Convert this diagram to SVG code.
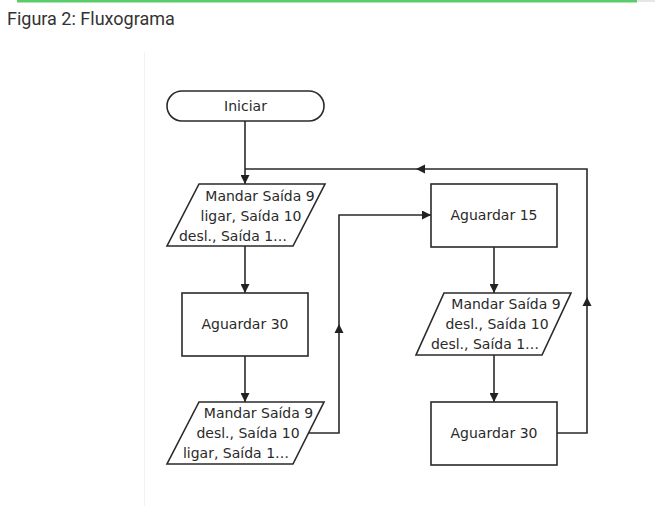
<svg xmlns="http://www.w3.org/2000/svg" width="655" height="506" viewBox="0 0 655 506">
<defs>
<marker id="ah" viewBox="0 0 10 10" refX="10" refY="5" markerWidth="9" markerHeight="9" markerUnits="userSpaceOnUse" orient="auto">
<path d="M0,0 L10,5 L0,10 Z" fill="#222"/>
</marker>
</defs>
<style>
.shape{fill:#fff;stroke:#2a2a2a;stroke-width:1.6}
.lbl{font-family:"DejaVu Sans",Verdana,sans-serif;font-size:14px;fill:#2a2a2a;text-anchor:middle;dominant-baseline:central}
.conn{fill:none;stroke:#2a2a2a;stroke-width:1.6}
.title{font-family:Roboto,"Liberation Sans",sans-serif;font-size:18px;fill:#333}
.tri{fill:#222}
</style>
<rect x="0" y="0" width="655" height="506" fill="#fff"/>
<rect x="637" y="0" width="18" height="2" fill="#e6e6e6"/>
<rect x="17" y="0" width="620" height="2.5" fill="#5ccb6b"/>
<text class="title" x="7" y="25">Figura 2: Fluxograma</text>
<line x1="144.5" y1="52" x2="144.5" y2="506" stroke="#f2f2f2" stroke-width="1"/>

<g id="connectors">
<path class="conn" d="M245,121 V184" marker-end="url(#ah)"/>
<path class="conn" d="M245,246 V293" marker-end="url(#ah)"/>
<path class="conn" d="M245,356 V402" marker-end="url(#ah)"/>
<path class="conn" d="M306,433 H339 V215 H431" marker-end="url(#ah)"/>
<path class="conn" d="M494,247 V293" marker-end="url(#ah)"/>
<path class="conn" d="M494,355 V402" marker-end="url(#ah)"/>
<path class="conn" d="M557,433 H587 V169 H245"/>
<path class="tri" d="M587,297 L591.5,306 L582.5,306 Z"/>
<path class="tri" d="M339,324 L343.5,333 L334.5,333 Z"/>
<path class="tri" d="M416,169 L425,164.5 L425,173.5 Z"/>
</g>

<g id="start">
<rect class="shape" x="167" y="91" width="157" height="30" rx="15" ry="15"/>
<text class="lbl" x="245.5" y="106">Iniciar</text>
</g>

<g id="out1">
<polygon class="shape" points="199,184 325,184 293,246 167,246"/>
<text class="lbl" x="260" y="196">Mandar Saída 9</text>
<text class="lbl" x="251" y="216">ligar, Saída 10</text>
<text class="lbl" x="233" y="236">desl., Saída 1…</text>
</g>

<g id="wait30a">
<rect class="shape" x="182" y="293" width="126" height="63"/>
<text class="lbl" x="245" y="324">Aguardar 30</text>
</g>

<g id="out2">
<polygon class="shape" points="199,402 324,402 293,464 167,464"/>
<text class="lbl" x="258.5" y="413">Mandar Saída 9</text>
<text class="lbl" x="248" y="433">desl., Saída 10</text>
<text class="lbl" x="236" y="453">ligar, Saída 1…</text>
</g>

<g id="wait15">
<rect class="shape" x="431" y="184" width="126" height="63"/>
<text class="lbl" x="494" y="215">Aguardar 15</text>
</g>

<g id="out3">
<polygon class="shape" points="444,293 571,293 542,355 416,355"/>
<text class="lbl" x="506" y="304">Mandar Saída 9</text>
<text class="lbl" x="497" y="324">desl., Saída 10</text>
<text class="lbl" x="485" y="344">desl., Saída 1…</text>
</g>

<g id="wait30b">
<rect class="shape" x="431" y="402" width="126" height="63"/>
<text class="lbl" x="494" y="433">Aguardar 30</text>
</g>
</svg>
